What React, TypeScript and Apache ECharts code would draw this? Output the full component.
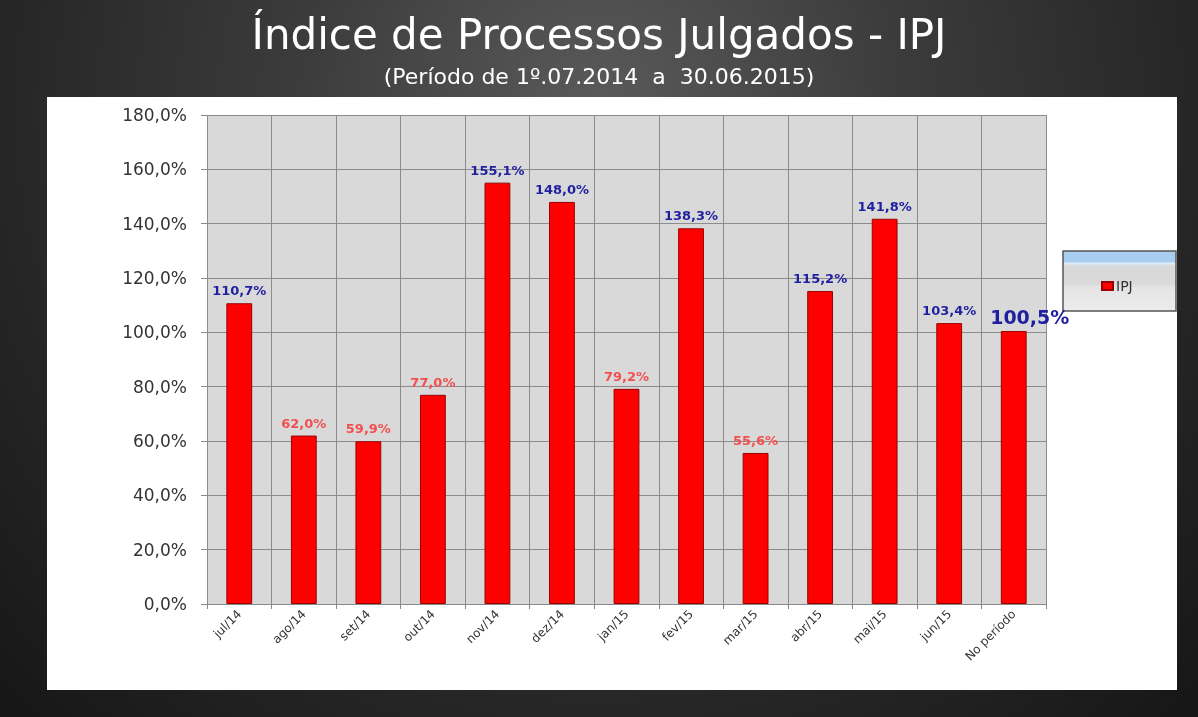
import React, { useEffect, useRef } from "react";
import * as echarts from "echarts";

const categories = ["jul/14", "ago/14", "set/14", "out/14", "nov/14", "dez/14", "jan/15", "fev/15", "mar/15", "abr/15", "mai/15", "jun/15", "No período"];
const values = [110.7, 62.0, 59.9, 77.0, 155.1, 148.0, 79.2, 138.3, 55.6, 115.2, 141.8, 103.4, 100.5];
const seriesName = "IPJ";
const titleText = "Índice de Processos Julgados - IPJ";
const subtitleText = "(Período de 1º.07.2014  a  30.06.2015)";

const fmt = (v: number) => v.toFixed(1).replace(".", ",") + "%";

export default function App() {
  const ref = useRef<HTMLDivElement>(null);
  useEffect(() => {
    const chart = echarts.init(ref.current!, undefined, { renderer: "svg" });
    const lastIdx = values.length - 1;
    const data = values.map((v, i) => ({
      value: v,
      label: i === lastIdx
        ? { fontSize: 19, color: "#1f1fa0", offset: [16, 2], fontWeight: "bold" }
        : { color: v >= 100 ? "#1f1fa0" : "#f25050" },
    }));
    chart.setOption({
      animation: false,
      backgroundColor: "transparent",
      textStyle: { fontFamily: "DejaVu Sans" },
      title: [
        {
          text: titleText,
          left: "center",
          top: 8,
          textStyle: { color: "#ffffff", fontSize: 42, fontWeight: "normal", fontFamily: "DejaVu Sans" },
        },
        {
          text: subtitleText,
          left: "center",
          top: 60,
          textStyle: { color: "#ffffff", fontSize: 22, fontWeight: "normal", fontFamily: "DejaVu Sans" },
        },
      ],
      graphic: [
        {
          type: "rect",
          z: -10,
          silent: true,
          shape: { x: 47, y: 97, width: 1130, height: 593 },
          style: { fill: "#ffffff" },
        },
        {
          type: "rect",
          z: 1,
          silent: true,
          shape: { x: 1063, y: 251, width: 113, height: 60 },
          style: {
            fill: new echarts.graphic.LinearGradient(0, 0, 0, 1, [
              { offset: 0, color: "#a9cdef" },
              { offset: 0.18, color: "#a9cdef" },
              { offset: 0.2, color: "#dcefff" },
              { offset: 0.25, color: "#d9d9d9" },
              { offset: 0.55, color: "#d9d9d9" },
              { offset: 0.6, color: "#e4e4e4" },
              { offset: 1, color: "#ececec" },
            ]),
            stroke: "#555555",
            lineWidth: 1.5,
          },
        },
      ],
      legend: {
        data: [{ name: seriesName, icon: "rect" }],
        left: 1096,
        top: 274,
        itemWidth: 11,
        itemHeight: 8,
        itemGap: 4,
        z: 5,
        textStyle: { fontSize: 14, color: "#333333", fontFamily: "DejaVu Sans", padding: [0, 0, 0, -2] },
      },
      grid: {
        left: 207,
        right: 152,
        top: 115,
        bottom: 113,
        show: true,
        backgroundColor: "#d9d9d9",
        borderWidth: 0,
      },
      xAxis: {
        type: "category",
        data: categories,
        boundaryGap: true,
        axisLine: { show: true, lineStyle: { color: "#888888", width: 1 } },
        axisTick: { show: true, alignWithLabel: false, length: 5, lineStyle: { color: "#888888" } },
        splitLine: { show: true, interval: 0, lineStyle: { color: "#8c8c8c", width: 1 } },
        axisLabel: {
          interval: 0,
          rotate: 45,
          fontSize: 12,
          color: "#333333",
          fontFamily: "DejaVu Sans",
          margin: 8,
        },
      },
      yAxis: {
        type: "value",
        min: 0,
        max: 180,
        interval: 20,
        axisLine: { show: false },
        axisTick: { show: true, length: 6, lineStyle: { color: "#888888" } },
        splitLine: { show: true, lineStyle: { color: "#8c8c8c", width: 1 } },
        axisLabel: {
          formatter: (v: number) => fmt(v),
          fontSize: 17,
          color: "#333333",
          fontFamily: "DejaVu Sans",
          margin: 20,
        },
      },
      series: [
        {
          name: seriesName,
          type: "bar",
          data,
          barWidth: "40%",
          itemStyle: { color: "#ff0000", borderColor: "#9a0000", borderWidth: 1 },
          label: {
            show: true,
            position: "top",
            distance: 6,
            fontSize: 13,
            fontWeight: "bold",
            fontFamily: "DejaVu Sans",
            formatter: (p: any) => fmt(p.value),
          },
        },
      ],
    });
    return () => chart.dispose();
  }, []);

  return (
    <div
      style={{
        position: "fixed",
        left: 0,
        top: 0,
        width: 1198,
        height: 717,
        background:
          "radial-gradient(ellipse at 50% 15%, #5a5a5a 0%, #3c3c3c 35%, #262626 70%, #161616 100%)",
      }}
    >
      <div ref={ref} style={{ width: 1198, height: 717 }} />
    </div>
  );
}
